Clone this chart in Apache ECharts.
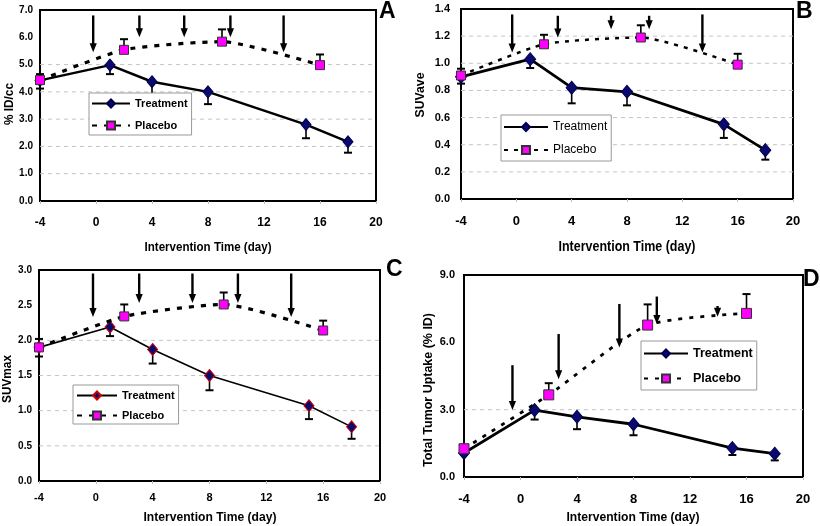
<!DOCTYPE html>
<html><head><meta charset="utf-8">
<script src="https://cdn.jsdelivr.net/npm/echarts@6/dist/echarts.min.js"></script>
<style>html,body{margin:0;padding:0;background:#fff}#c{width:820px;height:526px}</style>
</head><body><div id="c"></div>
<script>
// ---- data ----
const treatDays = [-4, 1, 4, 8, 15, 18];
const placeboDays = [-4, 2, 9, 16];
const xMin = -4, xMax = 20, xStep = 4;
const xTitle = 'Intervention Time (day)';

// Panel A: % ID/cc
const treatA = [4.42, 4.98, 4.37, 4.00, 2.80, 2.17];
const treatLowA = [4.12, 4.65, 3.90, 3.55, 2.30, 1.77];
const placeboA = [4.43, 5.54, 5.84, 4.98];
const placeboHighA = [4.65, 5.93, 6.29, 5.37];
const arrowDaysA = [-0.2, 3.1, 6.3, 9.6, 13.4];
const arrowTopA = [6.8, 6.8, 6.8, 6.8, 6.8];
const arrowTipA = [5.45, 6.0, 6.0, 6.0, 5.45];
const gridValsA = [1, 2, 3, 4, 5];

// Panel B: SUVave
const treatB = [0.90, 1.03, 0.82, 0.79, 0.55, 0.36];
const treatLowB = [0.85, 0.965, 0.705, 0.69, 0.45, 0.29];
const placeboB = [0.91, 1.14, 1.19, 0.99];
const placeboHighB = [0.96, 1.21, 1.28, 1.07];
const arrowDaysB = [-0.3, 3.0, 6.85, 9.6, 13.45];
const arrowTopB = [1.36, 1.35, 1.35, 1.35, 1.36];
const arrowTipB = [1.08, 1.19, 1.25, 1.25, 1.08];
const gridValsB = [0.2, 0.4, 0.6, 0.8, 1.0, 1.2];

// Panel C: SUVmax
const treatC = [1.90, 2.19, 1.87, 1.50, 1.07, 0.77];
const treatLowC = [1.77, 2.06, 1.67, 1.29, 0.88, 0.60];
const placeboC = [1.90, 2.34, 2.51, 2.14];
const placeboHighC = [2.02, 2.51, 2.68, 2.28];
const arrowDaysC = [-0.2, 3.05, 6.8, 10.0, 13.75];
const arrowTopC = [2.95, 2.95, 2.95, 2.95, 2.95];
const arrowTipC = [2.33, 2.53, 2.53, 2.53, 2.33];
const gridValsC = [0.5, 1.0, 1.5, 2.0];

// Panel D: Total Tumor Uptake (% ID)
const treatD = [1.07, 2.98, 2.68, 2.35, 1.29, 1.04];
const treatLowD = [1.0, 2.56, 2.13, 1.86, 0.98, 0.74];
const placeboD = [1.26, 3.66, 6.77, 7.29];
const placeboHighD = [1.30, 4.18, 7.69, 8.15];
const arrowDaysD = [-0.57, 2.7, 7.0, 9.65, 13.95];
const arrowTopD = [4.98, 6.37, 7.71, 8.04, 7.62];
const arrowTipD = [2.98, 4.35, 5.77, 6.82, 7.14];
const gridValsD = [3];

const SANS = "'Liberation Sans',Arial,sans-serif";

const panels = [
  { letter:'A', lx:388, ly:12, grid:{left:40, top:10, width:336, height:191},
    yMax:7, yStep:1, yName:'% ID/cc', yNamePos:[10,104], yNameW:42, yNameSize:12,
    xNamePos:[208,247], xNameW:127, xNameSize:13,
    xLabelSize:12, xLabelMargin:16, yLabelSize:10, yLabelMargin:7,
    treat:treatA, treatLow:treatLowA, plac:placeboA, placHigh:placeboHighA,
    aX:arrowDaysA, aTop:arrowTopA, aTip:arrowTipA, gridVals:gridValsA,
    tW:2.5, pW:3.2, pDash:[5,7], dia:10, sq:9, diaBorder:'#000050',
    legend:{left:89, top:93, itemWidth:38, itemGap:11, bold:true, size:11, padding:[5,4,4,2]} },
  { letter:'B', lx:805, ly:12, grid:{left:461, top:9, width:332, height:190},
    yMax:1.4, yStep:0.2, yName:'SUVave', yNamePos:[420,95], yNameW:45, yNameSize:13,
    xNamePos:[627,247], xNameW:137, xNameSize:14,
    xLabelSize:13, xLabelMargin:16, yLabelSize:11, yLabelMargin:11,
    treat:treatB, treatLow:treatLowB, plac:placeboB, placHigh:placeboHighB,
    aX:arrowDaysB, aTop:arrowTopB, aTip:arrowTipB, gridVals:gridValsB,
    tW:2.8, pW:2.5, pDash:[4,6], dia:11, sq:9, diaBorder:'#000050',
    legend:{left:501, top:115, itemWidth:44, itemGap:11, bold:false, size:12, padding:[6,4,5,2]} },
  { letter:'C', lx:395, ly:270, grid:{left:39, top:270, width:341, height:211},
    yMax:3, yStep:0.5, yName:'SUVmax', yNamePos:[8,379], yNameW:48, yNameSize:12,
    xNamePos:[210,517], xNameW:133, xNameSize:13,
    xLabelSize:11, xLabelMargin:11, yLabelSize:10, yLabelMargin:7,
    treat:treatC, treatLow:treatLowC, plac:placeboC, placHigh:placeboHighC,
    aX:arrowDaysC, aTop:arrowTopC, aTip:arrowTipC, gridVals:gridValsC,
    tW:1.6, pW:3.2, pDash:[5,7], dia:10, sq:9, diaBorder:'#cc0000',
    legend:{left:73, top:385, itemWidth:40, itemGap:9, bold:true, size:11, padding:[5,4,3,3]} },
  { letter:'D', lx:812, ly:280, grid:{left:464, top:275, width:339, height:202},
    yMax:9, yStep:3, yName:'Total Tumor Uptake (% ID)', yNamePos:[428,390], yNameW:154, yNameSize:13,
    xNamePos:[633,517], xNameW:133, xNameSize:13,
    xLabelSize:13, xLabelMargin:16, yLabelSize:11, yLabelMargin:9,
    treat:treatD, treatLow:treatLowD, plac:placeboD, placHigh:placeboHighD,
    aX:arrowDaysD, aTop:arrowTopD, aTip:arrowTipD, gridVals:gridValsD,
    tW:2.8, pW:2.8, pDash:[4,7], dia:11, sq:10, diaBorder:'#000050',
    legend:{left:641, top:341, itemWidth:44, itemGap:12, bold:true, size:12.5, padding:[6,4,5,2]} }
];

const measureCtx = document.createElement('canvas').getContext('2d');
function fitScale(text, size, target) {
  measureCtx.font = 'bold ' + size + 'px ' + SANS;
  const w = measureCtx.measureText(text).width;
  return w > 0 ? target / w : 1;
}

function errRender(params, api) {
  const x = api.value(0), v = api.value(1), e = api.value(2);
  const p0 = api.coord([x, v]), p1 = api.coord([x, e]);
  const cap = 4;
  return { type:'group', children:[
    { type:'line', shape:{x1:p0[0], y1:p0[1], x2:p1[0], y2:p1[1]}, style:{stroke:'#000', lineWidth:1.6} },
    { type:'line', shape:{x1:p1[0]-cap, y1:p1[1], x2:p1[0]+cap, y2:p1[1]}, style:{stroke:'#000', lineWidth:2} }
  ]};
}
function arrowRender(params, api) {
  const x = api.value(0), top = api.value(1), tip = api.value(2);
  const a = api.coord([x, top]), b = api.coord([x, tip]);
  const hl = 9, hw = 3.6;
  return { type:'group', children:[
    { type:'line', shape:{x1:a[0], y1:a[1], x2:b[0], y2:b[1]-hl+1}, style:{stroke:'#000', lineWidth:2.4} },
    { type:'polygon', shape:{points:[[b[0]-hw, b[1]-hl], [b[0]+hw, b[1]-hl], [b[0], b[1]]]}, style:{fill:'#000'} }
  ]};
}
function gridRender(params, api) {
  const v = api.value(1);
  const a = api.coord([xMin, v]), b = api.coord([xMax, v]);
  return { type:'line', shape:{x1:a[0], y1:a[1], x2:b[0], y2:b[1]}, style:{stroke:'#c4c4c4', lineWidth:1, lineDash:[4,4]} };
}

const grids = [], xAxes = [], yAxes = [], series = [], legends = [], graphics = [];
panels.forEach((p, i) => {
  grids.push(Object.assign({ show:true, borderColor:'#000', borderWidth:2, backgroundColor:'transparent' }, p.grid));
  xAxes.push({ type:'value', gridIndex:i, min:xMin, max:xMax, interval:xStep,
    axisLine:{ show:true, onZero:false, lineStyle:{ color:'#000', width:2 } },
    axisTick:{ show:true, length:3, lineStyle:{ color:'#bbb' } },
    splitLine:{ show:false },
    axisLabel:{ fontFamily:SANS, fontWeight:'bold', fontSize:p.xLabelSize, color:'#000', margin:p.xLabelMargin } });
  yAxes.push({ type:'value', gridIndex:i, min:0, max:p.yMax, interval:p.yStep,
    axisLine:{ show:true, onZero:false, lineStyle:{ color:'#000', width:2 } },
    axisTick:{ show:false }, splitLine:{ show:false },
    axisLabel:{ fontFamily:SANS, fontWeight:'bold', fontSize:p.yLabelSize, color:'#000', margin:p.yLabelMargin,
      formatter: v => Number(v).toFixed(1) } });
  const tName = 'Treatment' + ' '.repeat(i), pName = 'Placebo' + ' '.repeat(i);
  series.push({ type:'custom', xAxisIndex:i, yAxisIndex:i, silent:true, z:1, renderItem:gridRender,
    data: p.gridVals.map(v => [xMin, v]) });
  series.push({ type:'custom', xAxisIndex:i, yAxisIndex:i, silent:true, z:2, renderItem:errRender,
    data: treatDays.map((d, k) => [d, p.treat[k], p.treatLow[k]]) });
  series.push({ type:'custom', xAxisIndex:i, yAxisIndex:i, silent:true, z:2, renderItem:errRender,
    data: placeboDays.map((d, k) => [d, p.plac[k], p.placHigh[k]]) });
  series.push({ name:tName, type:'line', xAxisIndex:i, yAxisIndex:i, z:3,
    symbol:'diamond', symbolSize:[p.dia, p.dia + 2],
    itemStyle:{ color:'#0a0a6e', borderColor:p.diaBorder, borderWidth:1 },
    lineStyle:{ color:'#000', width:p.tW },
    data: treatDays.map((d, k) => [d, p.treat[k]]) });
  series.push({ name:pName, type:'line', xAxisIndex:i, yAxisIndex:i, z:4, smooth:0.2,
    symbol:'rect', symbolSize:p.sq,
    itemStyle:{ color:'#ff00ff', borderColor:'#333', borderWidth:1 },
    lineStyle:{ color:'#000', width:p.pW, type:p.pDash },
    data: placeboDays.map((d, k) => [d, p.plac[k]]) });
  series.push({ type:'custom', xAxisIndex:i, yAxisIndex:i, silent:true, z:5, renderItem:arrowRender,
    data: p.aX.map((d, k) => [d, p.aTop[k], p.aTip[k]]) });
  legends.push({ left:p.legend.left, top:p.legend.top, orient:'vertical', data:[tName, pName],
    itemWidth:p.legend.itemWidth, itemHeight:10, itemGap:p.legend.itemGap,
    padding:p.legend.padding, borderColor:'#999', borderWidth:1, backgroundColor:'#fff',
    formatter: n => n.trim(), selectedMode:false,
    textStyle:{ fontFamily:SANS, fontWeight:p.legend.bold ? 'bold' : 'normal', fontSize:p.legend.size, color:'#000' } });
  graphics.push({ type:'text', left:p.lx - 9, top:p.ly - 12, z:10,
    style:{ text:p.letter, fontFamily:SANS, fontWeight:'bold', fontSize:23, fill:'#000' } });
  graphics.push({ type:'text', x:p.xNamePos[0], y:p.xNamePos[1], z:10,
    scaleX: fitScale(xTitle, p.xNameSize, p.xNameW),
    style:{ text:xTitle, fontFamily:SANS, fontWeight:'bold', fontSize:p.xNameSize, fill:'#000',
      textAlign:'center', textVerticalAlign:'middle' } });
  graphics.push({ type:'text', x:p.yNamePos[0], y:p.yNamePos[1], z:10, rotation:Math.PI / 2,
    scaleX: fitScale(p.yName, p.yNameSize, p.yNameW),
    style:{ text:p.yName, fontFamily:SANS, fontWeight:'bold', fontSize:p.yNameSize, fill:'#000',
      textAlign:'center', textVerticalAlign:'middle' } });
});

const chart = echarts.init(document.getElementById('c'));
chart.setOption({ animation:false, backgroundColor:'#fff',
  grid:grids, xAxis:xAxes, yAxis:yAxes, series:series, legend:legends, graphic:graphics });
</script></body></html>
